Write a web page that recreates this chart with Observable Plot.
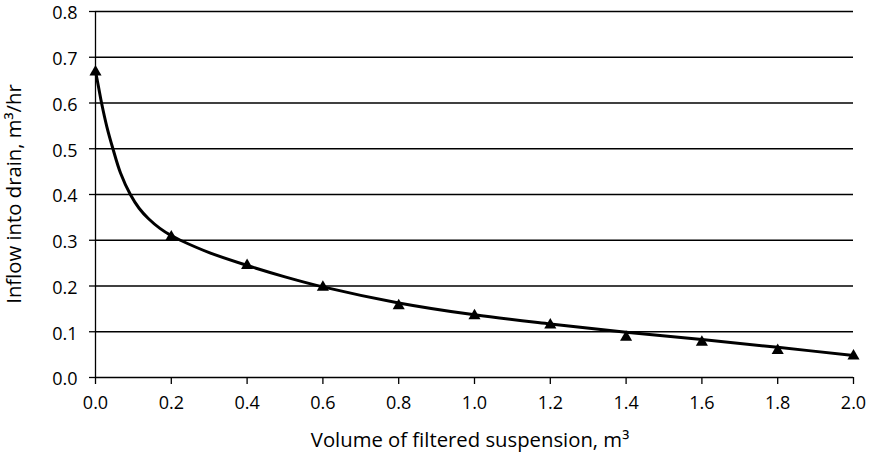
<!DOCTYPE html>
<html><head><meta charset="utf-8">
<script src="https://cdn.jsdelivr.net/npm/d3@7"></script>
<script src="https://cdn.jsdelivr.net/npm/@observablehq/plot@0.6"></script>
<style>
body{margin:0;background:#fff}
#chart svg text{font-family:'Open Sans',sans-serif !important;font-size:18px !important;fill:#000}
#chart svg text.axlabel{font-size:20.3px !important}
</style>
</head><body><div id="chart"></div>
<script>
// measured points (triangles)
const pointX = [0.0, 0.2, 0.4, 0.6, 0.8, 1.0, 1.2, 1.4, 1.6, 1.8, 2.0];
const pointY = [0.668, 0.307, 0.245, 0.197, 0.157, 0.135, 0.115, 0.088, 0.077, 0.059, 0.047];
// fitted curve
const curveX = [0, 0.008, 0.016, 0.03, 0.046, 0.066, 0.092, 0.115, 0.14, 0.17, 0.2, 0.224, 0.3, 0.4, 0.5, 0.6, 0.8, 1.0, 1.2, 1.4, 1.6, 1.8, 2.0];
const curveY = [0.67, 0.635, 0.6, 0.548, 0.5, 0.447, 0.4, 0.37, 0.347, 0.326, 0.31, 0.3, 0.273, 0.245, 0.22, 0.198, 0.163, 0.137, 0.117, 0.099, 0.083, 0.066, 0.048];
const xTicks = [0, 0.2, 0.4, 0.6, 0.8, 1.0, 1.2, 1.4, 1.6, 1.8, 2.0];
const yTicks = [0, 0.1, 0.2, 0.3, 0.4, 0.5, 0.6, 0.7, 0.8];
const xLabel = "Volume of filtered suspension, m³";
const yLabel = "Inflow into drain, m³/hr";

const points = pointX.map((x, i) => ({x, y: pointY[i]}));
const curve = curveX.map((x, i) => ({x, y: curveY[i]}));

const chart = Plot.plot({
  width: 873, height: 462,
  marginLeft: 95, marginRight: 20, marginTop: 11, marginBottom: 85,
  style: {fontFamily: "'Open Sans', sans-serif", color: "#000", background: "#fff"},
  x: {domain: [0, 2], ticks: xTicks, tickFormat: d3.format(".1f")},
  y: {domain: [0, 0.8], ticks: yTicks, tickFormat: d3.format(".1f")},
  marks: [
    Plot.ruleY(yTicks, {stroke: "#000", strokeWidth: 1.3}),
    Plot.ruleX([0], {stroke: "#000", strokeWidth: 1.3}),
    Plot.axisX({ticks: xTicks, tickFormat: d3.format(".1f"), tickSize: 7, tickPadding: 12, strokeWidth: 1.3, label: null}),
    Plot.axisY({ticks: yTicks, tickFormat: () => "", tickSize: 6, strokeWidth: 1.3, label: null}),
    Plot.axisY({ticks: yTicks, tickFormat: d3.format(".1f"), tickSize: 0, tickPadding: 18, dy: 2, label: null}),
    Plot.line(curve, {x: "x", y: "y", curve: "catmull-rom", stroke: "#000", strokeWidth: 3}),
    Plot.dot(points, {x: "x", y: "y", symbol: "triangle", fill: "#000", r: 4.5})
  ]
});
const svg = d3.select(chart);
svg.append("text").attr("class", "axlabel").attr("x", (95 + 853) / 2 - 4).attr("y", 447).attr("text-anchor", "middle")
  .text(xLabel);
svg.append("text").attr("class", "axlabel").attr("transform", `translate(21,${(11 + 377) / 2}) rotate(-90)`).attr("text-anchor", "middle")
  .text(yLabel);
document.getElementById("chart").append(chart);
</script></body></html>
